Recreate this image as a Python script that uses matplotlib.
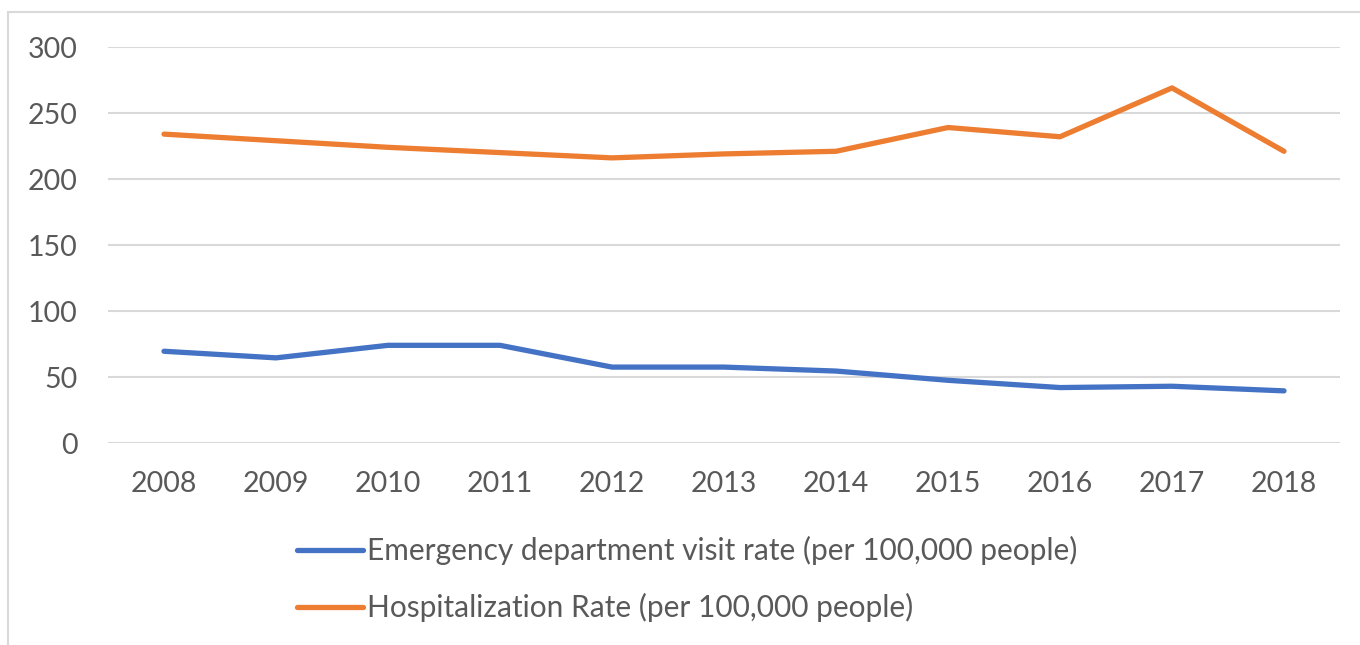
import matplotlib.pyplot as plt
from matplotlib.patches import Rectangle

years = ['2008', '2009', '2010', '2011', '2012', '2013',
         '2014', '2015', '2016', '2017', '2018']
ed_visit_rate = [69.5, 64.5, 74, 74, 57.5, 57.5, 54.5, 47.5, 42, 43, 39.5]
hosp_rate = [234, 229, 224, 220, 216, 219, 221, 239, 232, 269, 221]

ed_label = 'Emergency department visit rate (per 100,000 people)'
hosp_label = 'Hospitalization Rate (per 100,000 people)'

txt_col = '#595959'
plt.rcParams['font.family'] = ['Lato', 'DejaVu Sans']

fig = plt.figure(figsize=(13.6, 6.45), dpi=100)
ax = fig.add_axes([108 / 1360, 1 - 443 / 645, (1340 - 108) / 1360, (443 - 47) / 645])

# chart frame
fig.patches.append(Rectangle((8 / 1360, -0.1), 1.2, 1 - 12 / 645 + 0.1,
                             transform=fig.transFigure, fill=False,
                             edgecolor='#d9d9d9', linewidth=1.5))

x = list(range(len(years)))
ax.plot(x, ed_visit_rate, color='#4472C4', linewidth=3.8,
        solid_capstyle='round', label=ed_label)
ax.plot(x, hosp_rate, color='#ED7D31', linewidth=3.8,
        solid_capstyle='round', label=hosp_label)

ax.set_xlim(-0.5, len(years) - 0.5)
ax.set_ylim(0, 300)
ax.set_yticks(range(0, 301, 50))
ax.set_xticks(x)
ax.set_xticklabels(years)
ax.grid(axis='y', color='#d9d9d9', linewidth=1.5)
ax.set_axisbelow(True)
for s in ax.spines.values():
    s.set_visible(False)
ax.tick_params(axis='both', length=0, labelsize=20.5, colors=txt_col)
ax.tick_params(axis='y', pad=22)
ax.tick_params(axis='x', pad=20)

handles, labels = ax.get_legend_handles_labels()
fig.legend(handles, labels, loc='upper left',
           bbox_to_anchor=(270 / 1360, 1 - 509 / 645),
           frameon=False, fontsize=21.5, labelcolor=txt_col,
           handlelength=2.2, handletextpad=0.15, labelspacing=0.95)

fig.savefig('out.png', dpi=100)
